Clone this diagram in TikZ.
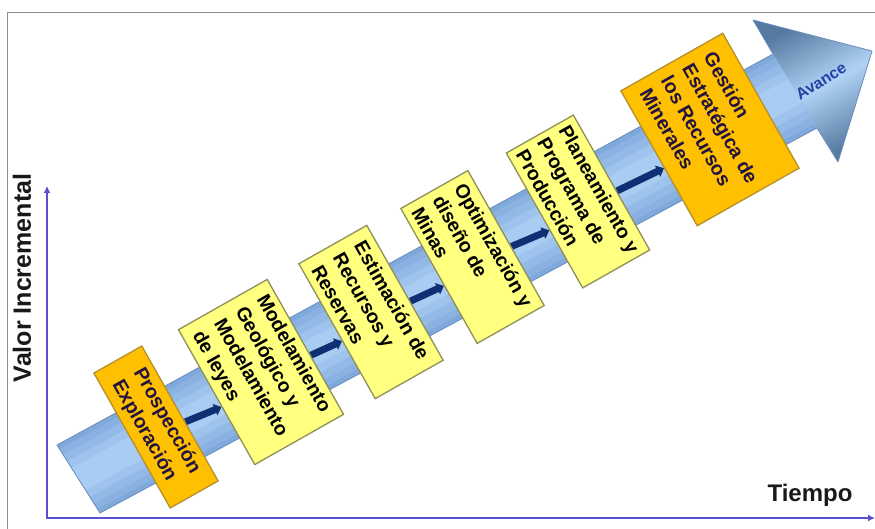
\documentclass[tikz,border=0pt]{standalone}
\usepackage{fontspec}
\setmainfont{Liberation Sans}
\usetikzlibrary{arrows.meta,calc}
\definecolor{frameg}{HTML}{8C8C8C}
\definecolor{axiscol}{HTML}{5A4FCF}
\definecolor{shaftdark}{HTML}{7FA8DB}
\definecolor{shaftlight}{HTML}{A8CCF2}
\definecolor{headdark}{HTML}{55799F}
\definecolor{headlight}{HTML}{AFD2F5}
\definecolor{arrowline}{HTML}{6A8EBC}
\definecolor{yel}{HTML}{FFFF80}
\definecolor{yelborder}{HTML}{8F8F5A}
\definecolor{ora}{HTML}{FFC000}
\definecolor{oraborder}{HTML}{B58F2E}
\definecolor{navy}{HTML}{0F2F73}
\definecolor{avancecol}{HTML}{2342A5}
\definecolor{oratext}{HTML}{21123F}
\pgfdeclarelayer{backl}
\pgfdeclarelayer{arrowl}
\pgfsetlayers{backl,arrowl,main}
\begin{document}
\begin{tikzpicture}[x=1pt,y=-1pt,
  stepbox/.style={draw=yelborder, line width=1.3pt, rotate=-60.5, minimum width=155pt,
     inner sep=0pt, align=left, font=\bfseries\fontsize{19.5}{24.5}\selectfont},
  yellowbox/.style={stepbox, fill=yel, text=black},
  orangebox/.style={stepbox, fill=ora, draw=oraborder, text=oratext},
  flowarrow/.style={navy, line width=7pt, -{Triangle[length=7pt,width=12pt]}},
  axisline/.style={axiscol, line width=2.2pt},
  axislabel/.style={font=\bfseries\fontsize{25}{30}\selectfont, inner sep=0pt, text=black!90},
]
\useasboundingbox (0,0) rectangle (875,529);

% boxes
\node[orangebox, minimum height=55pt] (b1) at (156,427) {Prospección\\Exploración};
\node[yellowbox, minimum height=102pt] (b2) at (261,372) {Modelamiento\\Geológico y\\Modelamiento\\de leyes};
\node[yellowbox, minimum height=78pt] (b3) at (371,312) {Estimación de\\Recursos y\\Reservas};
\node[yellowbox, minimum height=77pt] (b4) at (472.5,257) {Optimización y\\diseño de\\Minas};
\node[yellowbox, minimum height=77pt] (b5) at (578,201.5) {Planeamiento y\\Programa de\\Producción};
\node[orangebox, minimum height=117pt] (b6) at (710,129.5) {Gestión\\Estratégica de\\los Recursos\\Minerales};

% labels
\node[axislabel, rotate=90] (ylab) at (22,278) {Valor Incremental};
\node[axislabel, font=\bfseries\fontsize{24}{28}\selectfont] (xlab) at (810,495) {Tiempo};
\node[font=\bfseries\fontsize{16}{19}\selectfont, text=avancecol, rotate=32, inner sep=0pt] (avance) at (821,81) {Avance};

% small flow arrows
\begin{pgfonlayer}{arrowl}
\foreach \a/\b in {b1/b2,b2/b3,b3/b4,b4/b5,b5/b6}
  \draw[flowarrow] ($(\a.north)!10pt!(\a.north east)$) -- ($(\b.south)!11pt!(\b.south east)$);
\end{pgfonlayer}

\begin{pgfonlayer}{backl}
\fill[white] (0,0) rectangle (875,529);
% frame
\draw[frameg, line width=1pt] (7,529) -- (7,13) -- (875,13);
% axes
\coordinate (yaxtop) at (47,186);
\coordinate (origin) at (47,518);
\coordinate (xaxend) at (875,518);
\draw[axisline, {Latex[length=7pt,width=7pt]}-{Latex[length=7pt,width=7pt]}] (yaxtop) -- (origin) -- (xaxend);
% big arrow
\coordinate (S1) at (57,445);
\coordinate (S2) at (100,513);
\coordinate (E1) at (773,54);
\coordinate (E2) at (817,128);
\coordinate (H1) at (753,20);
\coordinate (HT) at (872,51);
\coordinate (H2) at (838,162);
\shade[top color=headdark, bottom color=headdark, middle color=headlight, shading angle=28]
  (E1) -- (H1) -- (HT) -- (H2) -- (E2) -- cycle;
\fill[shaftdark] (S1) -- (E1) -- (E2) -- (S2) -- cycle;
\foreach \t/\c in {0.06/25,0.14/50,0.24/75,0.34/100}{
  \fill[shaftlight!\c!shaftdark] ($(S1)!\t!(S2)$) -- ($(E1)!\t!(E2)$) -- ($(E1)!{1-\t}!(E2)$) -- ($(S1)!{1-\t}!(S2)$) -- cycle;
}
\draw[arrowline, line width=0.8pt, line join=round] (S1) -- (E1) -- (H1) -- (HT) -- (H2) -- (E2) -- (S2) -- cycle;
\end{pgfonlayer}
\end{tikzpicture}
\end{document}
